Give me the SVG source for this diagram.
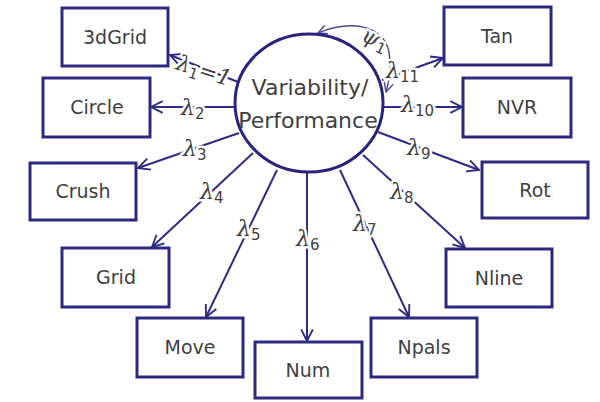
<svg xmlns="http://www.w3.org/2000/svg" width="600" height="402" viewBox="0 0 600 402">
<defs>
<marker id="ah" viewBox="0 0 12 12" refX="11" refY="6" markerWidth="14" markerHeight="14" markerUnits="userSpaceOnUse" orient="auto-start-reverse">
<path d="M1,1 L11,6 L1,11" fill="none" stroke="#2c2a86" stroke-width="1.6"/>
</marker>
<marker id="ahs" viewBox="0 0 12 12" refX="11" refY="6" markerWidth="11" markerHeight="11" markerUnits="userSpaceOnUse" orient="auto-start-reverse">
<path d="M1,1 L11,6 L1,11" fill="none" stroke="#4a479a" stroke-width="1.5"/>
</marker>
</defs>
<style>
.box{fill:#fff;stroke:#2b2a80;stroke-width:3}
.bt{font-family:"DejaVu Sans",Verdana,sans-serif;font-size:19px;fill:#404040;text-anchor:middle}
.ct{font-family:"DejaVu Sans",Verdana,sans-serif;font-size:22px;fill:#404040;text-anchor:middle}
.ln{stroke:#2e2b86;stroke-width:2;fill:none;marker-end:url(#ah)}
.lb{font-family:"DejaVu Serif","Liberation Serif",serif;font-style:italic;font-size:22px;fill:#404040;stroke:#fff;stroke-width:5;paint-order:stroke;stroke-linejoin:round}
.sb{font-family:"DejaVu Sans",sans-serif;font-style:normal;font-size:15px}
</style>
<rect width="600" height="402" fill="#fff"/>
<g id="connectors">
<line class="ln" x1="238" y1="82" x2="170" y2="55"/>
<line class="ln" x1="236" y1="107" x2="151" y2="107"/>
<line class="ln" x1="239" y1="133" x2="138" y2="168"/>
<line class="ln" x1="253" y1="153" x2="152" y2="247"/>
<line class="ln" x1="277" y1="170" x2="206" y2="317"/>
<line class="ln" x1="307" y1="173" x2="307" y2="341"/>
<line class="ln" x1="340" y1="170" x2="409" y2="317"/>
<line class="ln" x1="363" y1="155" x2="465" y2="248"/>
<line class="ln" x1="378" y1="132" x2="479" y2="170"/>
<line class="ln" x1="383" y1="107" x2="462" y2="107"/>
<line class="ln" x1="382" y1="80" x2="443" y2="58"/>
<path d="M318,33 C350,20 383,24 389,52 C392,68 389,82 386,92" fill="none" stroke="#4a479a" stroke-width="1.4" marker-start="url(#ahs)" marker-end="url(#ahs)"/>
<text class="lb" transform="translate(175,69) rotate(18)">λ<tspan class="sb" dy="4">1</tspan><tspan dy="-4">=1</tspan></text>
<text class="lb" x="181" y="115">λ<tspan class="sb" dy="4">2</tspan></text>
<text class="lb" x="183" y="156">λ<tspan class="sb" dy="4">3</tspan></text>
<text class="lb" x="200" y="199">λ<tspan class="sb" dy="4">4</tspan></text>
<text class="lb" x="237" y="236">λ<tspan class="sb" dy="4">5</tspan></text>
<text class="lb" x="296" y="246">λ<tspan class="sb" dy="4">6</tspan></text>
<text class="lb" x="353" y="231">λ<tspan class="sb" dy="4">7</tspan></text>
<text class="lb" x="390" y="199">λ<tspan class="sb" dy="4">8</tspan></text>
<text class="lb" x="407" y="155">λ<tspan class="sb" dy="4">9</tspan></text>
<text class="lb" x="401" y="112">λ<tspan class="sb" dy="4">10</tspan></text>
<text class="lb" x="386" y="78">λ<tspan class="sb" dy="4">11</tspan></text>
<text class="lb" transform="translate(360,40) rotate(25)">ψ<tspan class="sb" dy="4">1</tspan></text>
</g>
<g id="latent">
<ellipse cx="309" cy="103" rx="74" ry="69" fill="none" stroke="#28237e" stroke-width="3"/>
<text class="ct" x="310" y="95">Variability/</text>
<text class="ct" x="308" y="128">Performance</text>
</g>
<g id="n3dGrid"><rect class="box" x="62" y="8" width="106" height="58"/><text class="bt" x="115" y="44">3dGrid</text></g>
<g id="nCircle"><rect class="box" x="43" y="78" width="107" height="59"/><text class="bt" x="97" y="114">Circle</text></g>
<g id="nCrush"><rect class="box" x="30" y="163" width="106" height="57"/><text class="bt" x="83" y="198">Crush</text></g>
<g id="nGrid"><rect class="box" x="62" y="248" width="107" height="59"/><text class="bt" x="116" y="284">Grid</text></g>
<g id="nMove"><rect class="box" x="137" y="318" width="106" height="59"/><text class="bt" x="190" y="354">Move</text></g>
<g id="nNum"><rect class="box" x="255" y="342" width="107" height="56"/><text class="bt" x="308" y="377">Num</text></g>
<g id="nNpals"><rect class="box" x="371" y="318" width="106" height="59"/><text class="bt" x="424" y="354">Npals</text></g>
<g id="nNline"><rect class="box" x="446" y="249" width="106" height="58"/><text class="bt" x="499" y="285">Nline</text></g>
<g id="nRot"><rect class="box" x="482" y="162" width="106" height="56"/><text class="bt" x="535" y="197">Rot</text></g>
<g id="nNVR"><rect class="box" x="463" y="78" width="108" height="59"/><text class="bt" x="517" y="114">NVR</text></g>
<g id="nTan"><rect class="box" x="444" y="7" width="107" height="58"/><text class="bt" x="497" y="43">Tan</text></g>
</svg>
